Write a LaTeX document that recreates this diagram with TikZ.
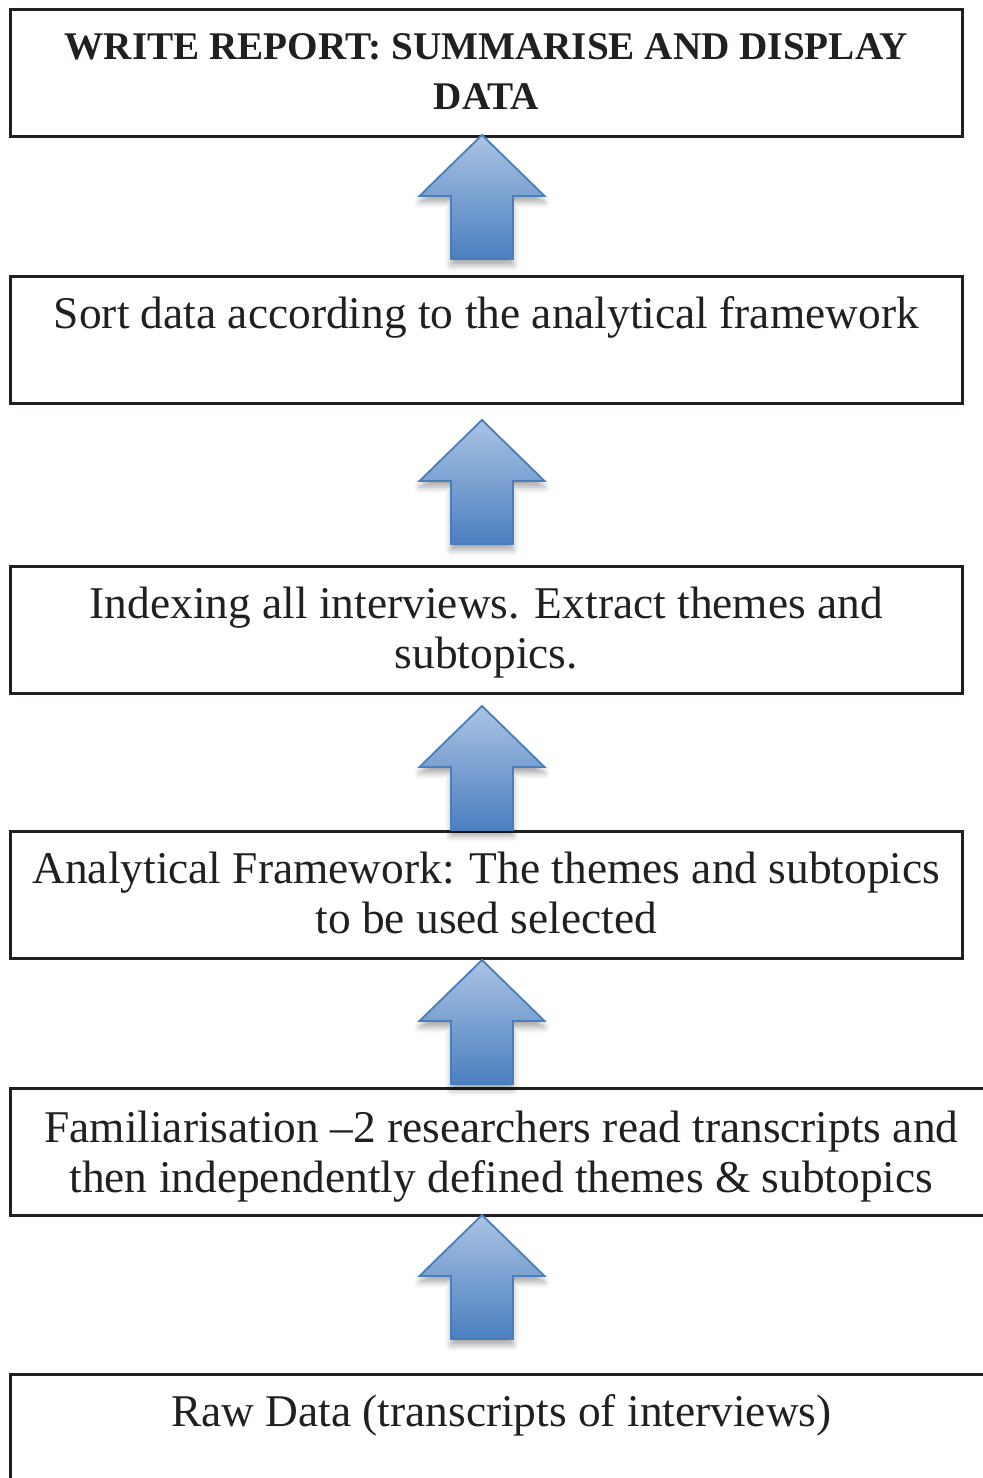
\documentclass[tikz,border=0pt]{standalone}
\usepackage{fontspec}
\setmainfont{Liberation Serif}
\usetikzlibrary{shadows.blur}
\definecolor{arrowtop}{HTML}{AAC3E3}
\definecolor{arrowbot}{HTML}{4B7FC0}
\definecolor{arrowline}{HTML}{4A7EBB}
\definecolor{inkgray}{HTML}{231F20}
\tikzset{
    stagebox/.style={draw=inkgray, line width=1.35pt, anchor=north west, inner sep=0pt, minimum height=63.5pt},
    stagetext/.style={anchor=base, align=center, inner sep=0pt, text=inkgray, font=\fontsize{22.7}{25}\selectfont},
    blockup/.style={draw=arrowline, line width=0.9pt, line join=miter, top color=arrowtop, bottom color=arrowbot,
        blur shadow={shadow xshift=0pt, shadow yshift=-3pt, shadow blur radius=3pt, shadow opacity=35}},
}
\begin{document}
\begin{tikzpicture}[x=0.5pt, y=-0.5pt]
        \useasboundingbox (0, 0) rectangle (983, 1478);
        \clip (0, 0) rectangle (983, 1478);

        \node[stagebox, minimum width=476pt] (report)  at (9,    8) {};
        \node[stagebox, minimum width=476pt] (sort)    at (9,  275) {};
        \node[stagebox, minimum width=476pt] (index)   at (9,  565) {};
        \node[stagebox, minimum width=476pt] (frame)   at (9,  830) {};
        \node[stagebox, minimum width=491pt] (famil)   at (9, 1087) {};
        \node[stagebox, minimum width=491pt] (rawdata) at (9, 1373) {};

        \node[stagetext, font=\fontsize{19.6}{25}\selectfont\bfseries] (reporttxt) at ([yshift=-50.5pt]report.north)
            {WRITE REPORT: SUMMARISE AND DISPLAY\\DATA};
        \node[stagetext] (sorttxt)  at ([yshift=-26.5pt]sort.north) {Sort data according to the analytical framework};
        \node[stagetext] (indextxt) at ([yshift=-51.5pt]index.north) {Indexing all interviews. Extract themes and\\subtopics.};
        \node[stagetext] (frametxt) at ([yshift=-51.5pt]frame.north) {Analytical Framework: The themes and subtopics\\to be used selected};
        \node[stagetext] (familtxt) at ([yshift=-52.5pt]famil.north)
            {Familiarisation \textendash2 researchers read transcripts and\\then independently defined themes \& subtopics};
        \node[stagetext] (rawtxt)   at ([yshift=-26.5pt]rawdata.north) {Raw Data (transcripts of interviews)};

        \coordinate (tip1) at (482,  135);
        \coordinate (tip2) at (482,  420);
        \coordinate (tip3) at (482,  706);
        \coordinate (tip4) at (482,  960);
        \coordinate (tip5) at (482, 1215);

        \foreach \t in {tip1, tip2, tip3, tip4, tip5}
            \draw[blockup] (\t) -- ++(62.5, 61) -- ++(-31.5, 0) -- ++(0, 63) -- ++(-62, 0)
                -- ++(0, -63) -- ++(-31.5, 0) -- cycle;
    \end{tikzpicture}
\end{document}
